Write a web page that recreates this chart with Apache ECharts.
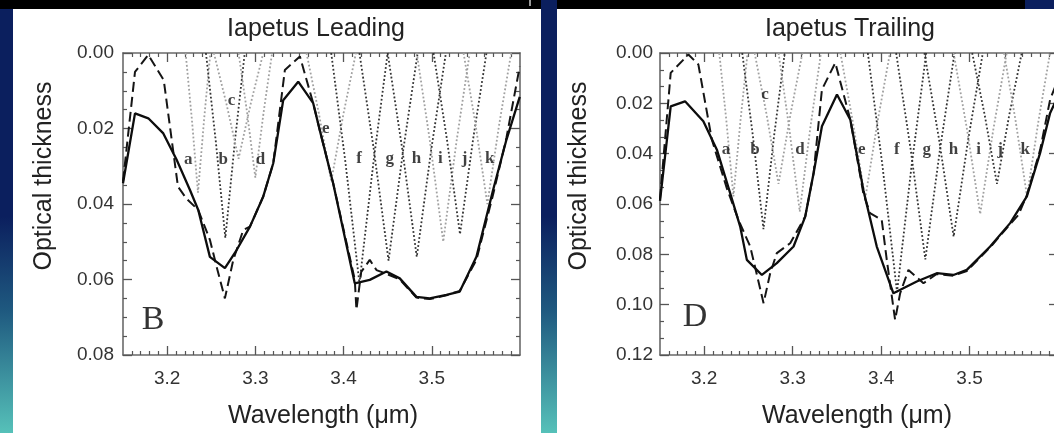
<!DOCTYPE html>
<html>
<head>
<meta charset="utf-8">
<script src="https://cdn.jsdelivr.net/npm/echarts@6/dist/echarts.min.js"></script>
<style>
html,body{margin:0;padding:0;width:1054px;height:433px;overflow:hidden;
  background:linear-gradient(to bottom,#0b1f5e 0%,#0b1f5e 50%,#1f5a80 72%,#56c1b9 100%);}
.blk{position:absolute;background:#000;top:0;height:9px;}
.wht{position:absolute;background:#fff;top:9px;height:424px;}
#chart{position:absolute;left:0;top:0;width:1064px;height:433px;}
</style>
</head>
<body>
<div class="blk" style="left:0;width:541px"></div>
<div class="blk" style="left:557px;width:468px"></div>
<div style="position:absolute;left:529px;top:0;width:2px;height:6px;background:#999"></div>
<div class="wht" style="left:13px;width:528px"></div>
<div class="wht" style="left:557px;width:497px"></div>
<div id="chart"></div>
<script>
// ---------------- DATA ----------------
const xMajorTicks = [3.2, 3.3, 3.4, 3.5];
const leftYTicks = [0, 0.02, 0.04, 0.06, 0.08];
const rightYTicks = [0, 0.02, 0.04, 0.06, 0.08, 0.10, 0.12];
const componentNames = ['a','b','c','d','e','f','g','h','i','j','k'];
const componentShade = ['light','dark','light','light','light','dark','dark','dark','light','dark','light'];

// Iapetus Leading: observed (solid) and model (dashed)
const leadObserved = [[3.150,0.0345],[3.1636,0.016],[3.1787,0.0173],[3.1957,0.0213],[3.2108,0.0283],[3.2259,0.0363],[3.2353,0.0416],[3.2485,0.054],[3.2655,0.057],[3.2788,0.0522],[3.2939,0.046],[3.309,0.038],[3.3203,0.0292],[3.3316,0.0125],[3.3486,0.0076],[3.3656,0.0133],[3.3731,0.0205],[3.3882,0.0345],[3.4127,0.061],[3.4297,0.0601],[3.4486,0.0579],[3.4637,0.0597],[3.4826,0.0646],[3.4977,0.065],[3.5166,0.0641],[3.5317,0.0632],[3.5506,0.054],[3.5695,0.0363],[3.5846,0.023],[3.5997,0.0116]];
const leadModel = [[3.150,0.034],[3.1636,0.005],[3.1787,0.0005],[3.1962,0.0072],[3.2123,0.0354],[3.2217,0.0385],[3.2353,0.0416],[3.2485,0.0495],[3.2561,0.0566],[3.2655,0.065],[3.275,0.0548],[3.2863,0.0469],[3.2939,0.046],[3.309,0.038],[3.3203,0.0292],[3.3335,0.0045],[3.3505,0.0009],[3.3656,0.0133],[3.3731,0.0205],[3.3882,0.0345],[3.4127,0.060],[3.4146,0.068],[3.42,0.058],[3.4297,0.0548],[3.4373,0.0575],[3.4486,0.0585],[3.4637,0.060],[3.4826,0.0648],[3.4977,0.0652],[3.5166,0.0642],[3.5317,0.063],[3.5506,0.0548],[3.5695,0.0375],[3.5846,0.0225],[3.5997,0.0036]];
// Iapetus Leading: fitted band components a..k
const leadA = [[3.221,0],[3.228,0.0174],[3.235,0.037],[3.242,0.0174],[3.249,0]];
const leadB = [[3.244,0],[3.255,0.023],[3.266,0.049],[3.277,0.023],[3.288,0]];
const leadC = [[3.253,0],[3.267,0.0132],[3.281,0.028],[3.295,0.0132],[3.309,0]];
const leadD = [[3.281,0],[3.2905,0.0155],[3.300,0.033],[3.3095,0.0155],[3.319,0]];
const leadE = [[3.358,0],[3.372,0.016],[3.386,0.034],[3.400,0.016],[3.414,0]];
const leadF = [[3.386,0],[3.402,0.0287],[3.418,0.061],[3.434,0.0287],[3.450,0]];
const leadG = [[3.418,0],[3.4345,0.0259],[3.451,0.055],[3.4675,0.0259],[3.484,0]];
const leadH = [[3.450,0],[3.4665,0.0254],[3.483,0.054],[3.4995,0.0254],[3.516,0]];
const leadI = [[3.483,0],[3.498,0.0235],[3.513,0.050],[3.528,0.0235],[3.543,0]];
const leadJ = [[3.502,0],[3.517,0.0226],[3.532,0.048],[3.547,0.0226],[3.562,0]];
const leadK = [[3.536,0],[3.5495,0.0188],[3.563,0.040],[3.5765,0.0188],[3.590,0]];
const leadLabelX = [3.224,3.2636,3.2731,3.3059,3.3798,3.4177,3.4524,3.4826,3.5098,3.5373,3.5656];
const leadLabelY = [0.0283,0.0283,0.0125,0.0283,0.020,0.0279,0.0279,0.0279,0.0279,0.0279,0.0279];

// Iapetus Trailing
const trailObserved = [[3.150,0.0588],[3.1621,0.0212],[3.1783,0.0192],[3.199,0.0271],[3.2143,0.0384],[3.2293,0.0557],[3.2406,0.0689],[3.2482,0.0822],[3.2652,0.0882],[3.2821,0.0835],[3.301,0.0769],[3.3142,0.065],[3.3237,0.0477],[3.3331,0.0291],[3.3501,0.0165],[3.3652,0.0265],[3.38,0.0545],[3.3951,0.0769],[3.4139,0.0955],[3.4403,0.0908],[3.4629,0.0875],[3.4818,0.0882],[3.4969,0.0862],[3.5233,0.0769],[3.5459,0.0676],[3.5648,0.057],[3.5798,0.0397],[3.5911,0.0238],[3.6,0.0172]];
const trailModel = [[3.150,0.058],[3.1621,0.0079],[3.1821,0.0006],[3.1934,0.0046],[3.2086,0.0344],[3.2255,0.0537],[3.2387,0.0663],[3.252,0.0769],[3.2671,0.0994],[3.2746,0.0875],[3.2821,0.0795],[3.2972,0.0756],[3.3142,0.065],[3.3237,0.0477],[3.3331,0.0145],[3.3482,0.0039],[3.3652,0.0265],[3.38,0.056],[3.3875,0.0636],[3.4007,0.0663],[3.4064,0.0822],[3.4158,0.106],[3.4215,0.0955],[3.4309,0.0862],[3.4479,0.0915],[3.4629,0.0878],[3.4818,0.0885],[3.4969,0.0866],[3.5233,0.0772],[3.5459,0.068],[3.5553,0.0643],[3.5648,0.0565],[3.5798,0.0385],[3.5911,0.0185],[3.6,0.0105]];
const trailA = [[3.217,0],[3.225,0.0268],[3.233,0.057],[3.241,0.0268],[3.249,0]];
const trailB = [[3.243,0],[3.255,0.0329],[3.267,0.070],[3.279,0.0329],[3.291,0]];
const trailC = [[3.257,0],[3.2705,0.0244],[3.284,0.052],[3.2975,0.0244],[3.311,0]];
const trailD = [[3.284,0],[3.296,0.0296],[3.308,0.063],[3.320,0.0296],[3.332,0]];
const trailE = [[3.354,0],[3.368,0.0273],[3.382,0.058],[3.396,0.0273],[3.410,0]];
const trailF = [[3.385,0],[3.4015,0.0447],[3.418,0.095],[3.4345,0.0447],[3.451,0]];
const trailG = [[3.417,0],[3.4335,0.0385],[3.450,0.082],[3.4665,0.0385],[3.483,0]];
const trailH = [[3.449,0],[3.4655,0.0343],[3.482,0.073],[3.4985,0.0343],[3.515,0]];
const trailI = [[3.482,0],[3.497,0.0301],[3.512,0.064],[3.527,0.0301],[3.542,0]];
const trailJ = [[3.503,0],[3.517,0.0244],[3.531,0.052],[3.545,0.0244],[3.559,0]];
const trailK = [[3.539,0],[3.552,0.0268],[3.565,0.057],[3.578,0.0268],[3.591,0]];
const trailLabelX = [3.2247,3.2575,3.2688,3.3084,3.3782,3.4177,3.4517,3.4818,3.5101,3.5346,3.5629];
const trailLabelY = [0.0384,0.0384,0.0165,0.0384,0.0384,0.0384,0.0384,0.0384,0.0384,0.0384,0.0384];

// ---------------- CHART ----------------
const leadComps = [leadA,leadB,leadC,leadD,leadE,leadF,leadG,leadH,leadI,leadJ,leadK];
const trailComps = [trailA,trailB,trailC,trailD,trailE,trailF,trailG,trailH,trailI,trailJ,trailK];
const xMinorTicks = [];
for (let i = 316; i <= 359; i++) { const v = i / 100; if (!xMajorTicks.some(m => Math.abs(m - v) < 1e-9)) xMinorTicks.push(v); }

const SANS = 'Liberation Sans, Arial, sans-serif';
const SERIF = 'Liberation Serif, Times New Roman, serif';
const axisCol = '#6a6a6a';
const tickCol = '#555';
const grids = [
  {left:123, top:53, width:397, height:302},
  {left:660, top:53, width:398, height:302}
];

const xAxes = [], yAxes = [];
grids.forEach((g, gi) => {
  ['bottom','top'].forEach(pos => {
    xAxes.push({gridIndex:gi, type:'value', min:3.15, max:3.6, position:pos,
      axisLine:{show:true, onZero:false, lineStyle:{color:axisCol, width:1.6}},
      axisTick:{show:true, inside:true, length:9, customValues:xMajorTicks, lineStyle:{color:tickCol, width:1.3}},
      axisLabel:{show:pos==='bottom', customValues:xMajorTicks, formatter:v=>v.toFixed(1), margin:14,
        color:'#333', fontSize:19, fontFamily:SANS},
      splitLine:{show:false}});
    xAxes.push({gridIndex:gi, type:'value', min:3.15, max:3.6, position:pos,
      axisLine:{show:false, onZero:false},
      axisTick:{show:true, inside:true, length:4, customValues:xMinorTicks, lineStyle:{color:tickCol, width:1.2}},
      axisLabel:{show:false}, splitLine:{show:false}});
  });
  const yt = gi === 0 ? leftYTicks : rightYTicks;
  ['left','right'].forEach(pos => {
    yAxes.push({gridIndex:gi, type:'value', inverse:true, min:yt[0], max:yt[yt.length-1], interval:0.02, position:pos,
      axisLine:{show:true, onZero:false, lineStyle:{color:axisCol, width:1.6}},
      axisTick:{show:true, inside:true, length:9, lineStyle:{color:tickCol, width:1.3}},
      minorTick:{show:true, splitNumber: gi===0 ? 4 : 3, length:4, lineStyle:{color:tickCol, width:1.2}},
      axisLabel:{show:pos==='left', formatter:v=>v.toFixed(2), margin: gi===0 ? 9 : 7,
        color:'#333', fontSize:19, fontFamily:SANS},
      splitLine:{show:false}, minorSplitLine:{show:false}});
  });
});

const series = [];
function addPanel(gi, comps, model, observed, lx, ly, letter, letterPos) {
  const xi = gi * 4, yi = gi * 2;
  comps.forEach((c, i) => {
    series.push({type:'line', xAxisIndex:xi, yAxisIndex:yi, data:c, symbol:'none', silent:true, z:2,
      lineStyle:{color: componentShade[i]==='dark' ? '#333' : '#a0a0a0', width:1.8, type:[1.8,2.2]}});
  });
  series.push({type:'line', xAxisIndex:xi, yAxisIndex:yi, data:model, symbol:'none', z:3,
    lineStyle:{color:'#151515', width:2, type:[10,5]}});
  series.push({type:'line', xAxisIndex:xi, yAxisIndex:yi, data:observed, symbol:'none', z:4,
    lineStyle:{color:'#0d0d0d', width:2.3}});
  series.push({type:'scatter', xAxisIndex:xi, yAxisIndex:yi, symbolSize:1, z:5,
    itemStyle:{color:'rgba(0,0,0,0)'},
    data: componentNames.map((n, i) => ({name:n, value:[lx[i], ly[i]]})),
    label:{show:true, position:'inside', formatter:'{b}', color:'#111', fontSize:17,
      fontWeight:'bold', fontFamily:SERIF}});
  series.push({type:'scatter', xAxisIndex:xi, yAxisIndex:yi, symbolSize:1, z:5,
    itemStyle:{color:'rgba(0,0,0,0)'},
    data:[{name:letter, value:letterPos}],
    label:{show:true, position:'inside', formatter:'{b}', color:'#000', fontSize:34, fontFamily:SERIF}});
}
addPanel(0, leadComps, leadModel, leadObserved, leadLabelX, leadLabelY, 'B', [3.184, 0.0707]);
addPanel(1, trailComps, trailModel, trailObserved, trailLabelX, trailLabelY, 'D', [3.1896, 0.1048]);

const textStyle = {fill:'#222', font:'25px ' + SANS, textAlign:'center', textVerticalAlign:'middle'};
const graphic = [
  {type:'text', x:316, y:29, style:Object.assign({}, textStyle, {text:'Iapetus Leading'})},
  {type:'text', x:850, y:29, style:Object.assign({}, textStyle, {text:'Iapetus Trailing'})},
  {type:'text', x:323, y:416, style:Object.assign({}, textStyle, {text:'Wavelength (\u03bcm)'})},
  {type:'text', x:857, y:416, style:Object.assign({}, textStyle, {text:'Wavelength (\u03bcm)'})},
  {type:'text', x:44, y:176, rotation:Math.PI/2, style:Object.assign({}, textStyle, {text:'Optical thickness'})},
  {type:'text', x:579, y:176, rotation:Math.PI/2, style:Object.assign({}, textStyle, {text:'Optical thickness'})}
];

const chart = echarts.init(document.getElementById('chart'), null, {renderer:'canvas'});
chart.setOption({
  backgroundColor:'transparent',
  animation:false,
  grid: grids.map(g => Object.assign({outerBoundsMode:'none', containLabel:false}, g)),
  xAxis: xAxes,
  yAxis: yAxes,
  series: series,
  graphic: graphic
});
</script>
</body>
</html>
